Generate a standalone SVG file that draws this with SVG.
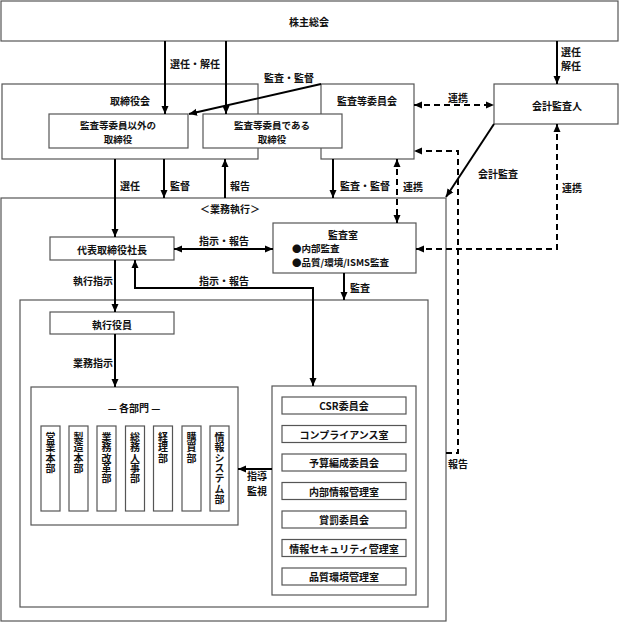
<svg xmlns="http://www.w3.org/2000/svg" width="619" height="622" viewBox="0 0 619 622">
<defs>
<marker id="ah" markerUnits="userSpaceOnUse" markerWidth="9" markerHeight="8" refX="8" refY="3.5" orient="auto-start-reverse" viewBox="0 0 9 7">
<path d="M0,0 L8,3.5 L0,7 z" fill="#000"/>
</marker>
<style>
text{font-family:"Noto Sans CJK JP","Noto Sans",sans-serif;font-size:10px;font-weight:bold;fill:#111;dominant-baseline:central}
.c{text-anchor:middle}
.s{font-size:9.5px}
.box{fill:#fff;stroke:#555;stroke-width:1.2}
.ln{fill:none;stroke:#000;stroke-width:2}
.ds{fill:none;stroke:#000;stroke-width:2;stroke-dasharray:6 4}
.v{writing-mode:vertical-rl;text-orientation:upright;text-anchor:start;font-size:10px;letter-spacing:0.4px}
</style>
</defs>
<rect width="619" height="622" fill="#fff"/>

<g id="kabunushi"><rect class="box" x="1" y="1" width="617" height="40"/><text class="c" x="309" y="21">株主総会</text></g>
<g id="torishimariyakukai"><rect class="box" x="2" y="84" width="256" height="75"/><text class="c" x="130" y="100">取締役会</text></g>
<g id="kansatou-iinkai"><rect class="box" x="321" y="84" width="93" height="75"/><text class="c" x="367" y="100">監査等委員会</text></g>
<g id="torishimariyaku-igai"><rect class="box" x="49" y="114" width="139" height="34"/><text class="c s" x="118" y="124.5">監査等委員以外の</text><text class="c s" x="118" y="138.5">取締役</text></g>
<g id="torishimariyaku-kansa"><rect class="box" x="203" y="114" width="139" height="34"/><text class="c s" x="272" y="124.5">監査等委員である</text><text class="c s" x="272" y="138.5">取締役</text></g>
<g id="kaikei"><rect class="box" x="494" y="84" width="124" height="40"/><text class="c" x="557" y="105">会計監査人</text></g>
<g id="gyoumu"><rect class="box" x="1" y="198" width="445" height="423"/><text class="c" x="230" y="208">＜業務執行＞</text></g>
<g id="shachou"><rect class="box" x="50" y="237" width="124" height="23"/><text class="c" x="112" y="249">代表取締役社長</text></g>
<g id="kansashitsu"><rect class="box" x="273" y="223" width="143" height="50"/><text class="c" x="343" y="234.5">監査室</text><text class="s" x="292" y="248">●内部監査</text><text class="s" x="292" y="262">●品質/環境/ISMS監査</text></g>
<g id="inner"><rect class="box" x="20" y="300" width="408" height="307"/></g>
<g id="shikkou"><rect class="box" x="50" y="312" width="124" height="22"/><text class="c" x="112" y="324">執行役員</text></g>
<g id="kakubumon"><rect class="box" x="31" y="387" width="207" height="138"/><text class="c" x="134" y="407">— 各部門 —</text>
<rect class="box" x="41" y="426" width="19" height="85"/><text class="v" x="50.5" y="432">営業本部</text>
<rect class="box" x="69" y="426" width="19" height="85"/><text class="v" x="78.5" y="432">製造本部</text>
<rect class="box" x="97" y="426" width="19" height="85"/><text class="v" x="106.5" y="432">業務改革部</text>
<rect class="box" x="125.5" y="426" width="19" height="85"/><text class="v" x="135" y="432">総務人事部</text>
<rect class="box" x="153.5" y="426" width="19" height="85"/><text class="v" x="163" y="432">経理部</text>
<rect class="box" x="182" y="426" width="19" height="85"/><text class="v" x="191.5" y="432">購買部</text>
<rect class="box" x="210" y="426" width="19" height="85"/><text class="v" x="219.5" y="432">情報システム部</text>
</g>
<g id="iinkai"><rect class="box" x="272" y="386" width="144" height="209"/>
<rect class="box" x="282" y="397" width="124" height="17"/><text class="c" x="344" y="405.5">CSR委員会</text>
<rect class="box" x="282" y="425.5" width="124" height="17"/><text class="c" x="344" y="434">コンプライアンス室</text>
<rect class="box" x="282" y="454" width="124" height="17"/><text class="c" x="344" y="462.5">予算編成委員会</text>
<rect class="box" x="282" y="482.5" width="124" height="17"/><text class="c" x="344" y="491">内部情報管理室</text>
<rect class="box" x="282" y="511" width="124" height="17"/><text class="c" x="344" y="519.5">賞罰委員会</text>
<rect class="box" x="282" y="539.5" width="124" height="17"/><text class="c" x="344" y="548">情報セキュリティ管理室</text>
<rect class="box" x="282" y="568" width="124" height="17"/><text class="c" x="344" y="576.5">品質環境管理室</text>
</g>

<g id="connectors">
<path class="ln" d="M165,41 V114" marker-end="url(#ah)"/>
<path class="ln" d="M226,41 V114" marker-end="url(#ah)"/>
<text class="c" x="195" y="63">選任・解任</text>
<path class="ln" d="M557,41 V84" marker-end="url(#ah)"/>
<text x="561" y="51.5">選任</text><text x="561" y="65.5">解任</text>
<path class="ln" d="M321,84 L189,114" marker-end="url(#ah)"/>
<text class="c" x="289" y="77">監査・監督</text>
<path class="ds" d="M414,105 H494" marker-start="url(#ah)" marker-end="url(#ah)"/>
<text class="c" x="458" y="97">連携</text>
<path class="ln" d="M494,124 L446,197" marker-end="url(#ah)"/>
<text class="c" x="498" y="173">会計監査</text>
<path class="ln" d="M115,159 V237" marker-end="url(#ah)"/>
<text x="120" y="185">選任</text>
<path class="ln" d="M164,159 V198" marker-end="url(#ah)"/>
<text x="170" y="185">監督</text>
<path class="ln" d="M225,198 V159" marker-end="url(#ah)"/>
<text x="230" y="185">報告</text>
<path class="ln" d="M333,159 V198" marker-end="url(#ah)"/>
<text x="340" y="185">監査・監督</text>
<path class="ds" d="M397,159 V223" marker-start="url(#ah)" marker-end="url(#ah)"/>
<text x="403" y="186">連携</text>
<path class="ds" d="M446,453 H458 V151 H414" marker-end="url(#ah)"/>
<text x="448" y="463">報告</text>
<path class="ds" d="M416,249 H557 V124" marker-start="url(#ah)" marker-end="url(#ah)"/>
<text x="562" y="187">連携</text>
<path class="ln" d="M174,249 H273" marker-start="url(#ah)" marker-end="url(#ah)"/>
<text class="c" x="224" y="240">指示・報告</text>
<path class="ln" d="M115,260 V312" marker-end="url(#ah)"/>
<text class="c" x="93" y="280">執行指示</text>
<path class="ln" d="M313,386 V288 H135 V260" marker-start="url(#ah)" marker-end="url(#ah)"/>
<text class="c" x="224" y="280">指示・報告</text>
<path class="ln" d="M344,273 V300" marker-end="url(#ah)"/>
<text x="350" y="287">監査</text>
<path class="ln" d="M115,334 V387" marker-end="url(#ah)"/>
<text class="c" x="93" y="362">業務指示</text>
<path class="ln" d="M272,469 H238" marker-end="url(#ah)"/>
<text x="247" y="475">指導</text><text x="247" y="490">監視</text>
</g>
</svg>
